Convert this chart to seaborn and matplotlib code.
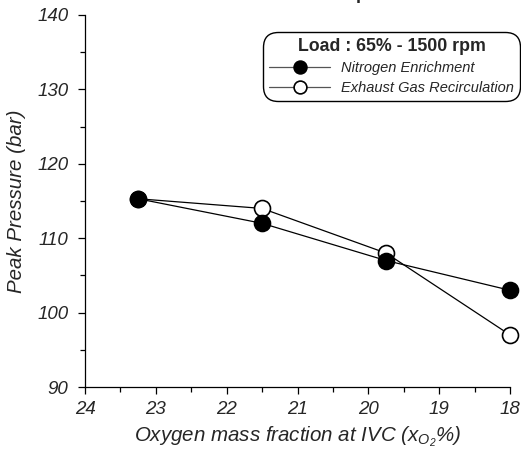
import matplotlib
matplotlib.use("Agg")
import matplotlib.pyplot as plt
import seaborn as sns
import pandas as pd

oxygen = [23.25, 21.5, 19.75, 18.0]
ne_pressure = [115.3, 112.0, 107.0, 103.0]
egr_pressure = [115.3, 114.0, 108.0, 97.0]
series_names = ["Nitrogen Enrichment", "Exhaust Gas Recirculation"]
legend_title = "Load : 65% - 1500 rpm"
x_ticks = [24, 23, 22, 21, 20, 19, 18]
y_ticks = [90, 100, 110, 120, 130, 140]

sns.set_theme(style="ticks")
plt.rcParams['font.family'] = ['Liberation Sans', 'DejaVu Sans']
plt.rcParams['mathtext.fontset'] = 'custom'
plt.rcParams['mathtext.it'] = 'Liberation Sans:italic'
plt.rcParams['mathtext.rm'] = 'Liberation Sans:italic'

df_ne = pd.DataFrame({"x": oxygen, "y": ne_pressure})
df_egr = pd.DataFrame({"x": oxygen, "y": egr_pressure})

fig = plt.figure(figsize=(5.21, 4.58), dpi=100)
ax = fig.add_axes([85/521, 1-387/458, (510-85)/521, (387-15)/458])

sns.lineplot(data=df_egr, x="x", y="y", ax=ax, color="black", lw=0.9,
             marker="o", markersize=11.5, markerfacecolor="white",
             markeredgecolor="black", markeredgewidth=1.2,
             label=series_names[1], sort=False, clip_on=False)
sns.lineplot(data=df_ne, x="x", y="y", ax=ax, color="black", lw=0.9,
             marker="o", markersize=11.5, markerfacecolor="black",
             markeredgecolor="black", markeredgewidth=1.2,
             label=series_names[0], sort=False, clip_on=False)

ax.set_xlim(24, 18)
ax.set_ylim(90, 140)
ax.set_xticks(x_ticks)
ax.set_xticklabels([str(t) for t in x_ticks])
ax.set_yticks(y_ticks)
ax.set_yticklabels([str(t) for t in y_ticks])
ax.set_xticks([23.5, 22.5, 21.5, 20.5, 19.5, 18.5], minor=True)
ax.set_yticks([95, 105, 115, 125, 135], minor=True)
for lab in ax.get_xticklabels() + ax.get_yticklabels():
    lab.set_fontstyle("italic")
    lab.set_fontsize(13.5)
ax.tick_params(axis="both", which="major", length=5, width=0.9, color="black")
ax.tick_params(axis="y", which="major", pad=7)
ax.tick_params(axis="x", which="major", pad=5)
ax.tick_params(axis="both", which="minor", length=3.5, width=0.9, color="black")
for s in ["top", "right"]:
    ax.spines[s].set_visible(False)
for s in ["left", "bottom"]:
    ax.spines[s].set_color("black")
    ax.spines[s].set_linewidth(0.9)

ax.set_xlabel(r"Oxygen mass fraction at IVC (x$_{\mathregular{O_2}}$%)",
              fontsize=14.8, fontstyle="italic", labelpad=5)
ax.set_ylabel("Peak Pressure (bar)", fontsize=14.8, fontstyle="italic", labelpad=8)

handles, labels = ax.get_legend_handles_labels()
order = [labels.index(series_names[0]), labels.index(series_names[1])]
leg = ax.legend([handles[i] for i in order], [labels[i] for i in order],
                loc="upper right", bbox_to_anchor=(520/521, 1-32/458),
                bbox_transform=fig.transFigure, frameon=True, fancybox=True,
                title=legend_title, handlelength=4.0, handletextpad=0.7,
                borderpad=0.4, labelspacing=0.4, markerscale=0.8,
                borderaxespad=0)
leg.get_title().set_fontweight("bold")
leg.get_title().set_fontsize(12.8)
for t in leg.get_texts():
    t.set_fontstyle("italic")
    t.set_fontsize(10.5)
frame = leg.get_frame()
frame.set_edgecolor("black")
frame.set_linewidth(1.0)
frame.set_alpha(1)
frame.set_boxstyle("round,pad=0,rounding_size=1.0")
for h in leg.legend_handles:
    h.set_color("#555555")
    h.set_markeredgecolor("black")

fig.text(361/521, 1.0 + 1/458, "p", fontsize=13, fontweight="bold",
         ha="center", va="baseline")

fig.savefig("out.png", dpi=100)
